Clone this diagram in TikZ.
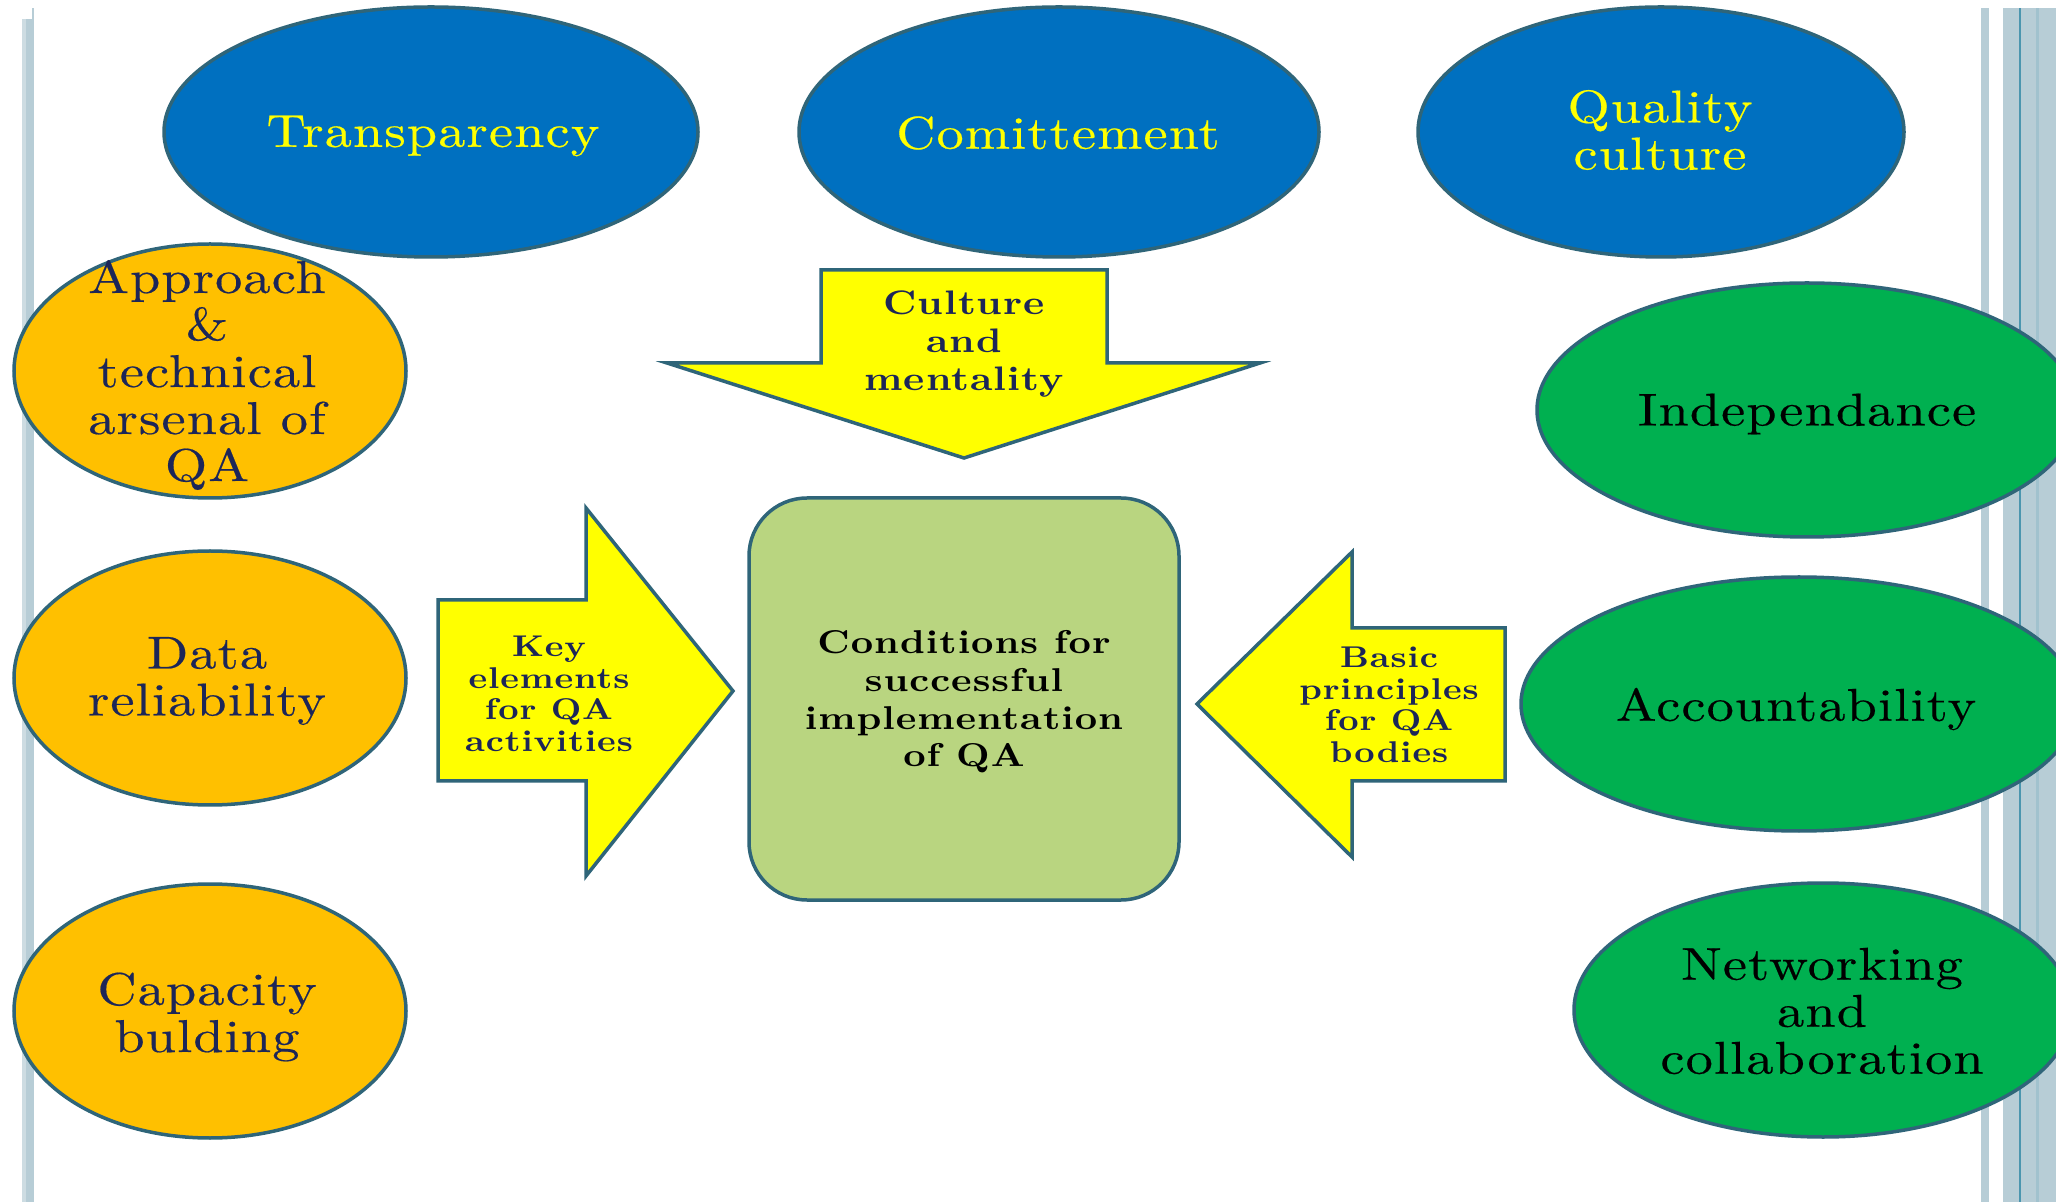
\documentclass[tikz,border=0pt]{standalone}
\usepackage{fontspec}
\newfontfamily\qafont{lmroman10-regular.otf}[FakeStretch=1.18, LetterSpace=2.5, FakeBold=0.4]
\newfontfamily\qabfont{lmroman10-bold.otf}[FakeStretch=1.18, LetterSpace=3]
\definecolor{edgeC}{RGB}{47,101,121}
\definecolor{blueC}{RGB}{0,112,192}
\definecolor{orangeC}{RGB}{255,192,0}
\definecolor{greenC}{RGB}{0,176,80}
\definecolor{yellowC}{RGB}{255,255,0}
\definecolor{rectC}{RGB}{185,213,128}
\definecolor{barC}{RGB}{183,205,214}
\definecolor{barD}{RGB}{75,150,175}
\definecolor{navyC}{RGB}{28,38,88}
\tikzset{
  shapeline/.style={draw=edgeC, line width=1.75pt, line join=miter},
  blueell/.style={shapeline, fill=blueC},
  orangeell/.style={shapeline, fill=orangeC},
  greenell/.style={shapeline, fill=greenC},
  arrowbox/.style={shapeline, fill=yellowC},
  bigtxt/.style={font=\qafont\fontsize{23}{23.5}\selectfont, align=center, inner sep=0pt},
  toptxt/.style={bigtxt, text=yellowC},
  lefttxt/.style={bigtxt, text=navyC},
  righttxt/.style={bigtxt, text=black},
  arrtxt/.style={font=\qabfont\fontsize{15}{15.8}\selectfont, align=center, inner sep=0pt, text=navyC},
  downtxt/.style={font=\qabfont\fontsize{17}{19}\selectfont, align=center, inner sep=0pt, text=navyC},
  centtxt/.style={font=\qabfont\fontsize{16.5}{18.8}\selectfont, align=center, inner sep=0pt, text=black}
}
\begin{document}
\begin{tikzpicture}[x=0.5pt,y=-0.5pt]
\useasboundingbox (0,0) rectangle (2056,1202);
\fill[white] (0,0) rectangle (2056,1202);
\clip (0,0) rectangle (2056,1202);
% side bars
\fill[barC!70] (22,19) rectangle (26,1202);
\fill[barC] (26,19) rectangle (34,1202);
\fill[barC] (32,8) rectangle (34,19);
\fill[barC] (1981,8) rectangle (1989,1202);
\fill[barC] (2003,8) rectangle (2056,1202);
\fill[barD] (2019,8) rectangle (2021,1202);
\fill[barC!80!barD] (2036,8) rectangle (2039,1202);
% top ellipses
\path[blueell] (431,132) ellipse [x radius=267, y radius=125];
\path[blueell] (1059,132) ellipse [x radius=260, y radius=125];
\path[blueell] (1661,132) ellipse [x radius=243, y radius=125];
\node[toptxt] (transp) at (433,136) {Transparency};
\node[toptxt] (commit) at (1058,133) {Comittement};
\node[toptxt] (qualcult) at (1660,130) {Quality\\culture};
% left ellipses
\path[orangeell] (210,371) ellipse [x radius=196, y radius=127];
\path[orangeell] (210,678) ellipse [x radius=196, y radius=127];
\path[orangeell] (210,1011) ellipse [x radius=196, y radius=127];
\node[lefttxt] (approach) at (207,375) {Approach\\\&\\technical\\arsenal of\\QA};
\node[lefttxt] (datarel) at (207,681) {Data\\reliability};
\node[lefttxt] (capacity) at (207,1017) {Capacity\\bulding};
% right ellipses
\path[greenell] (1807,410) ellipse [x radius=270, y radius=127];
\path[greenell] (1799,704) ellipse [x radius=278, y radius=127];
\path[greenell] (1823,1010) ellipse [x radius=249, y radius=127];
\node[righttxt] (indep) at (1807,414) {Independance};
\node[righttxt] (account) at (1796,709) {Accountability};
\node[righttxt] (network) at (1822,1011) {Networking\\and\\collaboration};
% central box
\draw[shapeline, fill=rectC, rounded corners=29pt] (749,498) rectangle (1179,900);
\node[centtxt] (cond) at (964,702) {Conditions for\\successful\\implementation\\of QA};
% arrows
\draw[arrowbox] (821,270) -- (1107,270) -- (1107,363) -- (1260,363) -- (964,458) -- (667,363) -- (821,363) -- cycle;
\node[downtxt] (culture) at (964,344) {Culture\\and\\mentality};
\draw[arrowbox] (438,600) -- (586,600) -- (586,508) -- (733,691) -- (586,876) -- (586,781) -- (438,781) -- cycle;
\node[arrtxt] (keyel) at (549,694) {Key\\elements\\for QA\\activities};
\draw[arrowbox] (1505,628) -- (1352,628) -- (1352,552) -- (1197,704) -- (1352,857) -- (1352,781) -- (1505,781) -- cycle;
\node[arrtxt] (basic) at (1389,705) {Basic\\principles\\for QA\\bodies};
\end{tikzpicture}
\end{document}
